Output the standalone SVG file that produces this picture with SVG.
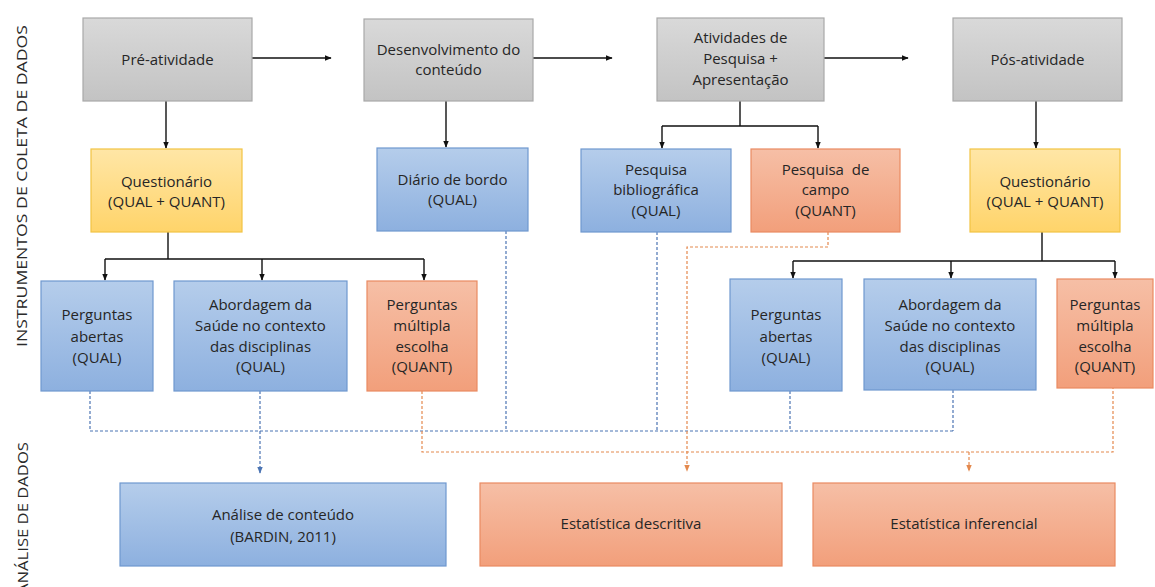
<svg xmlns="http://www.w3.org/2000/svg" width="1155" height="587" viewBox="0 0 1155 587">
<style>
.t{font-family:"Open Sans","Liberation Sans",sans-serif;font-size:15px;fill:#262626;text-anchor:middle}
.side{font-family:"Open Sans","Liberation Sans",sans-serif;font-size:14px;fill:#2a2a2a;text-anchor:middle}
.gray{fill:url(#gGray);stroke:#a9a9a9;stroke-width:1.2}
.blue{fill:url(#gBlue);stroke:#6f98cf;stroke-width:1.2}
.yel{fill:url(#gYel);stroke:#f2c443;stroke-width:1.2}
.ora{fill:url(#gOra);stroke:#e98a62;stroke-width:1.2}
.k{fill:none;stroke:#111;stroke-width:1.4}
.ka{fill:none;stroke:#111;stroke-width:1.4;marker-end:url(#ak)}
.bd{fill:none;stroke:#4b74b3;stroke-width:1.2;stroke-dasharray:3 2}
.bda{fill:none;stroke:#4b74b3;stroke-width:1.2;stroke-dasharray:3 2;marker-end:url(#ab)}
.od{fill:none;stroke:#e4894e;stroke-width:1.2;stroke-dasharray:3 2}
.oda{fill:none;stroke:#e4894e;stroke-width:1.2;stroke-dasharray:3 2;marker-end:url(#ao)}
</style>
<defs>
<linearGradient id="gGray" x1="0" y1="0" x2="0" y2="1"><stop offset="0" stop-color="#d9d9d9"/><stop offset="1" stop-color="#c3c3c3"/></linearGradient>
<linearGradient id="gBlue" x1="0" y1="0" x2="0" y2="1"><stop offset="0" stop-color="#b5cdeb"/><stop offset="1" stop-color="#8db0df"/></linearGradient>
<linearGradient id="gYel" x1="0" y1="0" x2="0" y2="1"><stop offset="0" stop-color="#ffe6a6"/><stop offset="1" stop-color="#ffd46a"/></linearGradient>
<linearGradient id="gOra" x1="0" y1="0" x2="0" y2="1"><stop offset="0" stop-color="#f6bfa6"/><stop offset="1" stop-color="#f29f7b"/></linearGradient>
<marker id="ak" viewBox="0 0 10 10" refX="9" refY="5" markerWidth="7" markerHeight="7" markerUnits="userSpaceOnUse" orient="auto"><path d="M0,1 L10,5 L0,9 z" fill="#111"/></marker>
<marker id="ab" viewBox="0 0 10 10" refX="9" refY="5" markerWidth="7" markerHeight="7" markerUnits="userSpaceOnUse" orient="auto"><path d="M0,1 L10,5 L0,9 z" fill="#4b74b3"/></marker>
<marker id="ao" viewBox="0 0 10 10" refX="9" refY="5" markerWidth="7" markerHeight="7" markerUnits="userSpaceOnUse" orient="auto"><path d="M0,1 L10,5 L0,9 z" fill="#e4894e"/></marker>
</defs>
<rect width="1155" height="587" fill="#ffffff"/>

<g id="side-labels">
<text class="side" transform="translate(27,186) rotate(-90)" textLength="322" lengthAdjust="spacingAndGlyphs">INSTRUMENTOS DE COLETA DE DADOS</text>
<text class="side" transform="translate(28,518) rotate(-90)" textLength="152" lengthAdjust="spacingAndGlyphs">ANÁLISE DE DADOS</text>
</g>

<g id="connectors">
<path class="ka" d="M252,58 H331"/>
<path class="ka" d="M533,58 H612"/>
<path class="ka" d="M824,58 H908"/>
<path class="ka" d="M166,101 V148"/>
<path class="ka" d="M446,101 V147"/>
<path class="k" d="M740,101 V126 M662,126 H818"/>
<path class="ka" d="M662,126 V148"/>
<path class="ka" d="M818,126 V148"/>
<path class="ka" d="M1036,101 V148"/>
<path class="k" d="M168,232 V259 M105,259 H424"/>
<path class="ka" d="M105,259 V280"/>
<path class="ka" d="M262,259 V280"/>
<path class="ka" d="M424,259 V280"/>
<path class="k" d="M1042,232 V261 M793,261 H1115"/>
<path class="ka" d="M793,261 V278"/>
<path class="ka" d="M951,261 V278"/>
<path class="ka" d="M1115,261 V278"/>

<path class="bd" d="M90,391 V431 M506,231 V431 M657,232 V431 M790,391 V431 M953,390 V431 M90,431 H953"/>
<path class="bda" d="M260,391 V473"/>

<path class="od" d="M422,391 V452 H1113 V388"/>
<path class="oda" d="M828,232 V247 H687 V471"/>
<path class="oda" d="M969,452 V471"/>
</g>

<g id="pre"><rect class="gray" x="83" y="18" width="169" height="83"/><text class="t" x="167.5" y="65">Pré-atividade</text></g>
<g id="desenv"><rect class="gray" x="364" y="19" width="169" height="82"/><text class="t" x="448.5" y="55">Desenvolvimento do</text><text class="t" x="448.5" y="75">conteúdo</text></g>
<g id="atividades"><rect class="gray" x="657" y="18" width="167" height="83"/><text class="t" x="740.5" y="43">Atividades de</text><text class="t" x="740.5" y="64">Pesquisa +</text><text class="t" x="740.5" y="85">Apresentação</text></g>
<g id="pos"><rect class="gray" x="953" y="18" width="169" height="83"/><text class="t" x="1037.5" y="65">Pós-atividade</text></g>

<g id="quest1"><rect class="yel" x="91" y="149" width="151" height="83"/><text class="t" x="166.5" y="187">Questionário</text><text class="t" x="166.5" y="207">(QUAL + QUANT)</text></g>
<g id="diario"><rect class="blue" x="377" y="148" width="151" height="83"/><text class="t" x="452.5" y="185">Diário de bordo</text><text class="t" x="452.5" y="205">(QUAL)</text></g>
<g id="pesqbib"><rect class="blue" x="581" y="149" width="150" height="83"/><text class="t" x="656" y="175">Pesquisa</text><text class="t" x="656" y="195">bibliográfica</text><text class="t" x="656" y="216">(QUAL)</text></g>
<g id="pesqcampo"><rect class="ora" x="751" y="149" width="149" height="83"/><text class="t" x="825.5" y="175" xml:space="preserve">Pesquisa  de</text><text class="t" x="825.5" y="195">campo</text><text class="t" x="825.5" y="216">(QUANT)</text></g>
<g id="quest2"><rect class="yel" x="970" y="149" width="150" height="83"/><text class="t" x="1045" y="187">Questionário</text><text class="t" x="1045" y="207">(QUAL + QUANT)</text></g>

<g id="abertas1"><rect class="blue" x="41" y="281" width="112" height="110"/><text class="t" x="97" y="320">Perguntas</text><text class="t" x="97" y="342">abertas</text><text class="t" x="97" y="363">(QUAL)</text></g>
<g id="abordagem1"><rect class="blue" x="174" y="281" width="173" height="110"/><text class="t" x="260.5" y="310">Abordagem da</text><text class="t" x="260.5" y="331">Saúde no contexto</text><text class="t" x="260.5" y="352">das disciplinas</text><text class="t" x="260.5" y="372">(QUAL)</text></g>
<g id="multipla1"><rect class="ora" x="367" y="281" width="110" height="110"/><text class="t" x="422" y="310">Perguntas</text><text class="t" x="422" y="331">múltipla</text><text class="t" x="422" y="352">escolha</text><text class="t" x="422" y="372">(QUANT)</text></g>

<g id="abertas2"><rect class="blue" x="730" y="279" width="112" height="112"/><text class="t" x="786" y="320">Perguntas</text><text class="t" x="786" y="342">abertas</text><text class="t" x="786" y="363">(QUAL)</text></g>
<g id="abordagem2"><rect class="blue" x="864" y="279" width="172" height="111"/><text class="t" x="950" y="310">Abordagem da</text><text class="t" x="950" y="331">Saúde no contexto</text><text class="t" x="950" y="352">das disciplinas</text><text class="t" x="950" y="372">(QUAL)</text></g>
<g id="multipla2"><rect class="ora" x="1057" y="279" width="96" height="109"/><text class="t" x="1105" y="310">Perguntas</text><text class="t" x="1105" y="331">múltipla</text><text class="t" x="1105" y="352">escolha</text><text class="t" x="1105" y="372">(QUANT)</text></g>

<g id="analise"><rect class="blue" x="120" y="483" width="326" height="83"/><text class="t" x="283" y="520">Análise de conteúdo</text><text class="t" x="283" y="542">(BARDIN, 2011)</text></g>
<g id="descritiva"><rect class="ora" x="480" y="483" width="302" height="83"/><text class="t" x="631" y="529">Estatística descritiva</text></g>
<g id="inferencial"><rect class="ora" x="813" y="483" width="302" height="83"/><text class="t" x="964" y="529">Estatística inferencial</text></g>
</svg>
